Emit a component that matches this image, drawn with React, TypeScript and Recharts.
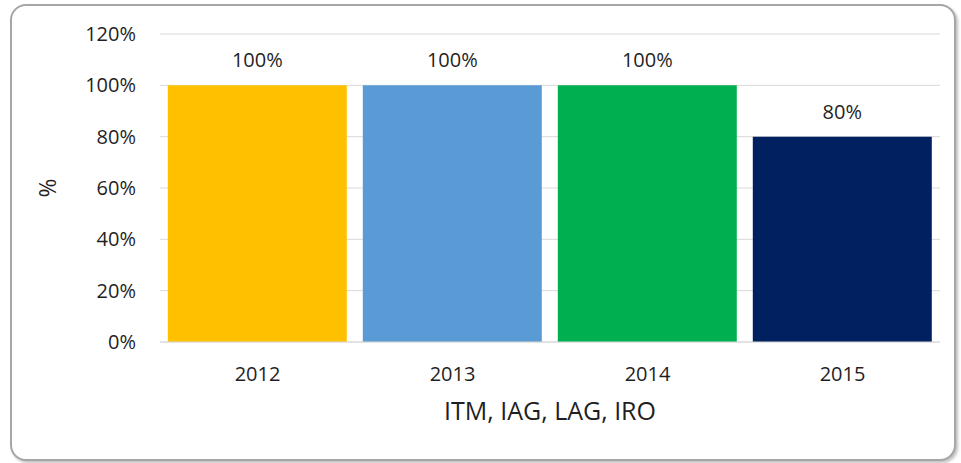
import React from 'react';
import { BarChart, Bar, XAxis, YAxis, CartesianGrid, Cell, LabelList } from 'recharts';

const categories = ['2012', '2013', '2014', '2015'];
const values = [100, 100, 100, 80];
const barColors = ['#FFC000', '#5B9BD5', '#00B050', '#002060'];
const yTicks = [0, 20, 40, 60, 80, 100, 120];
const xTitle = 'ITM, IAG, LAG, IRO';
const yTitle = '%';

const data = categories.map((c, i) => ({ name: c, value: values[i] }));

const FONT = '"Open Sans", sans-serif';
const TEXT = '#1f1f1f';

const YLabel = (props: any) => {
  const vb = props.viewBox || {};
  const cx = 35;
  const cy = (vb.y || 0) + (vb.height || 0) / 2;
  return (
    <text
      x={cx}
      y={cy}
      transform={`rotate(-90, ${cx}, ${cy})`}
      textAnchor="middle"
      dominantBaseline="central"
      fontFamily={FONT}
      fontSize={23}
      fill={TEXT}
    >
      {yTitle}
    </text>
  );
};

export default function App() {
  return (
    <div
      style={{
        position: 'absolute',
        left: 10,
        top: 4,
        width: 946,
        height: 457,
        boxSizing: 'border-box',
        border: '2px solid #a6a6a6',
        borderRadius: 16,
        boxShadow: '2px 2px 3px rgba(0,0,0,0.25)',
        background: '#fff',
      }}
    >
      <BarChart
        width={942}
        height={453}
        data={data}
        margin={{ top: 28, right: 14, bottom: 10, left: 0 }}
        barCategoryGap="4%"
      >
        <CartesianGrid vertical={false} stroke="#d9d9d9" strokeWidth={1} />
        <XAxis
          dataKey="name"
          height={107}
          axisLine={{ stroke: '#d9d9d9' }}
          tickLine={false}
          tickSize={0}
          tickMargin={25}
          tick={{ fontFamily: FONT, fontSize: 20, fill: TEXT }}
          label={{
            value: xTitle,
            position: 'insideBottom',
            offset: 29,
            style: { fontFamily: FONT, fontSize: 25, fill: TEXT },
          }}
        />
        <YAxis
          width={148}
          domain={[0, 120]}
          ticks={yTicks}
          interval={0}
          axisLine={false}
          tickLine={false}
          tickSize={0}
          tickMargin={24}
          tickFormatter={(v: number) => `${v}%`}
          tick={{ fontFamily: FONT, fontSize: 20, fill: TEXT }}
          label={<YLabel />}
        />
        <Bar dataKey="value" isAnimationActive={false}>
          {data.map((d, i) => (
            <Cell key={d.name} fill={barColors[i]} />
          ))}
          <LabelList
            dataKey="value"
            position="top"
            offset={18}
            formatter={(v: any) => `${v}%`}
            style={{ fontFamily: FONT, fontSize: 20, fill: TEXT }}
          />
        </Bar>
      </BarChart>
    </div>
  );
}
